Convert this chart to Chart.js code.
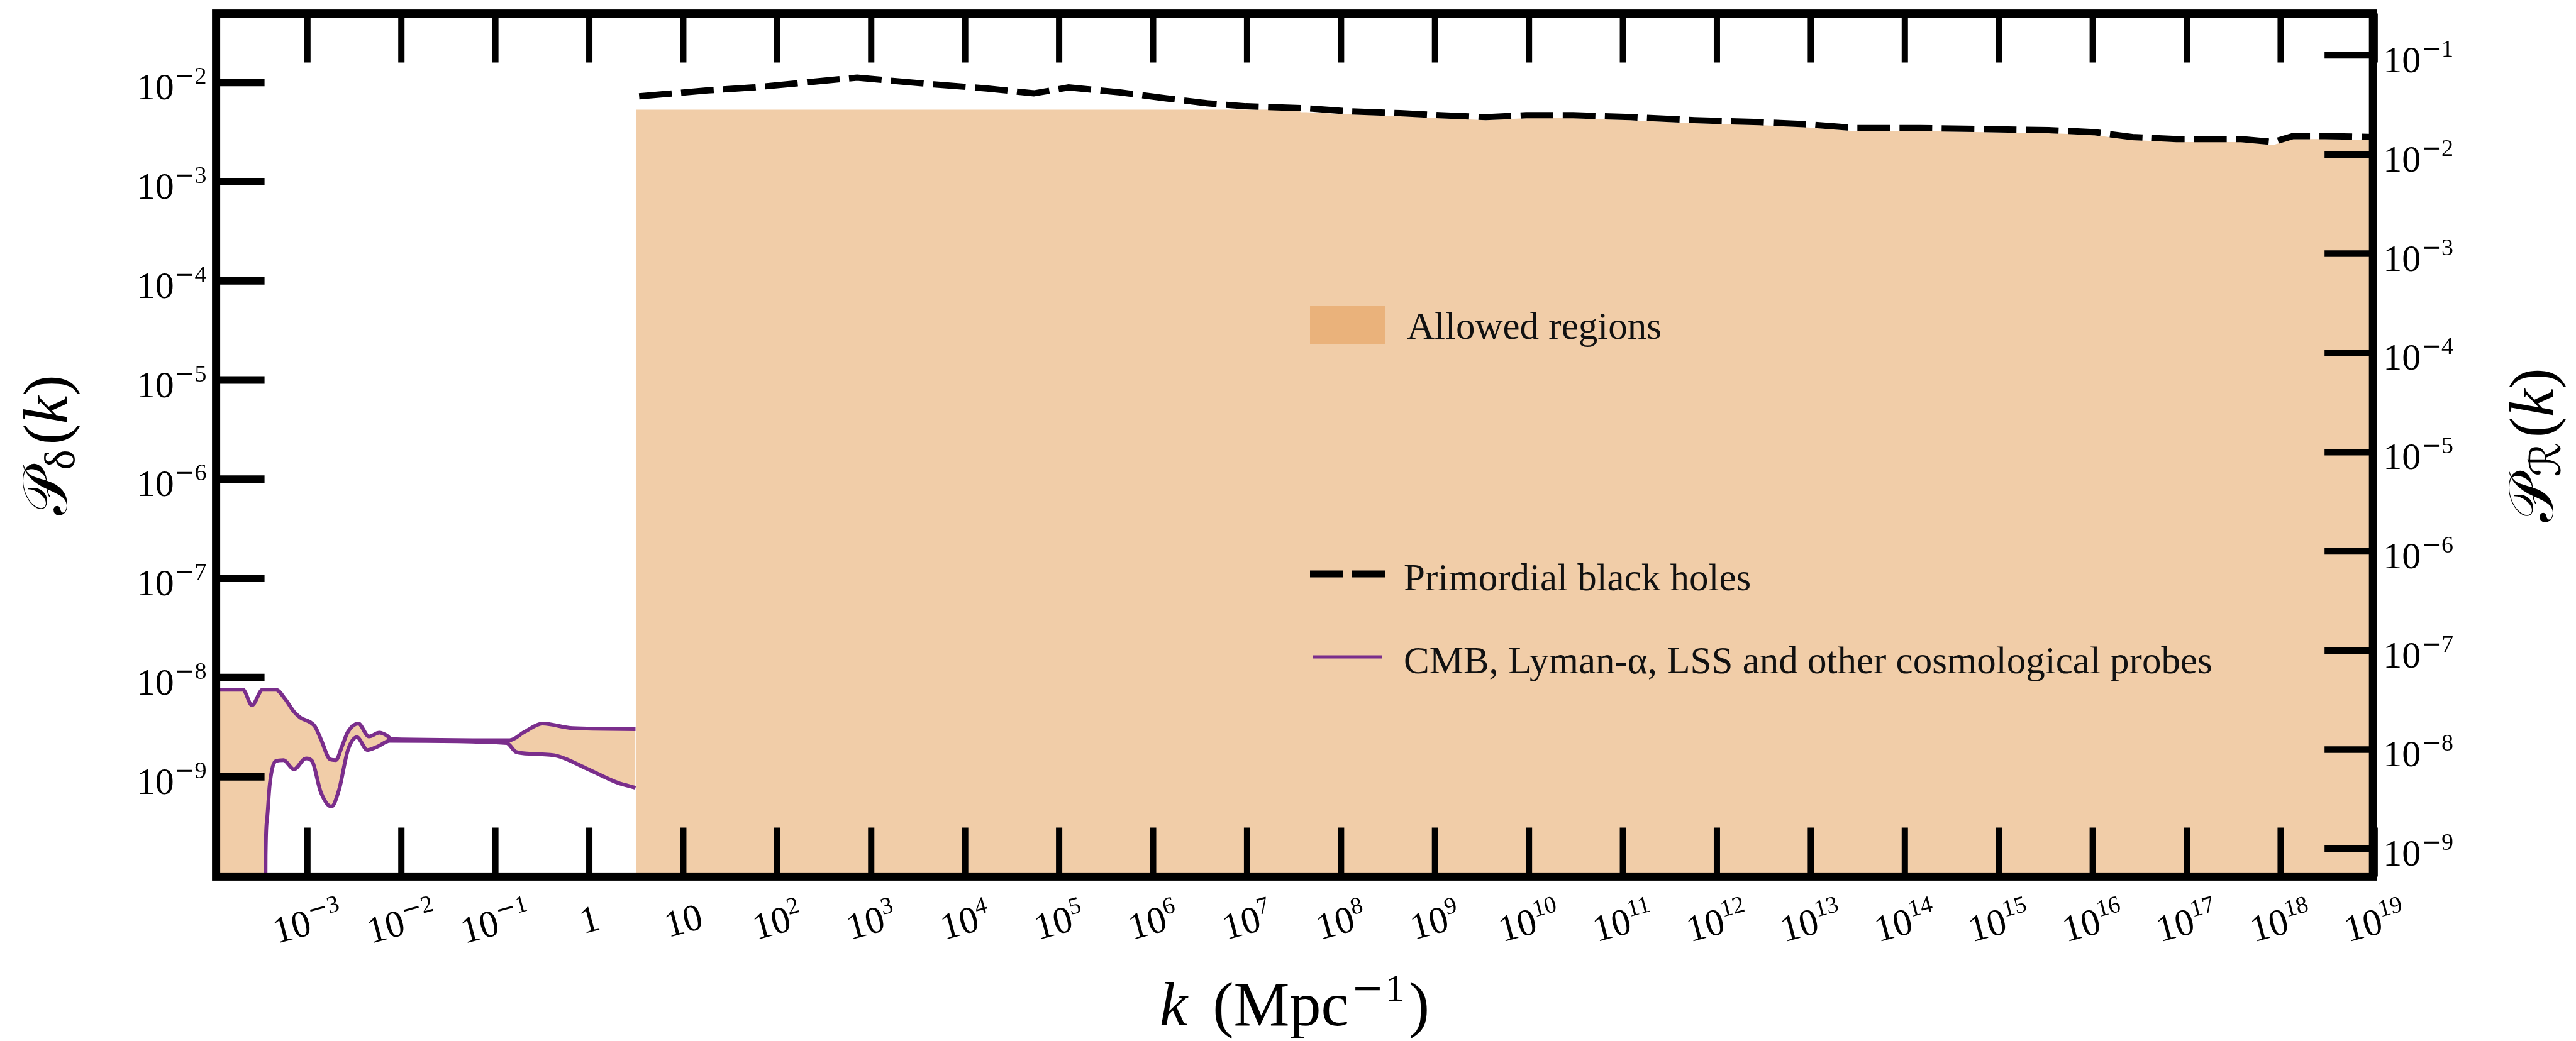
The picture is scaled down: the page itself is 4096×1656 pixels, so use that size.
<!DOCTYPE html>
<html>
<head>
<meta charset="utf-8">
<script src="https://cdn.jsdelivr.net/npm/chart.js@4.4.0/dist/chart.umd.min.js"></script>
<style>
  html, body { margin: 0; padding: 0; background: #fff; }
</style>
</head>
<body>
<canvas id="chart" width="4096" height="1656"></canvas>
<script>
// ---- data (k in Mpc^-1, P_delta dimensionless) ----

// CMB, Lyman-alpha, LSS band: upper edge
const cmbUpperK = [1.07e-4, 2.06e-4, 2.57e-4, 3.33e-4, 4.63e-4, 5.77e-4, 7.19e-4, 8.32e-4, 1.20e-3, 1.39e-3,
  1.74e-3, 2.01e-3, 2.33e-3, 2.70e-3, 3.48e-3, 4.51e-3, 5.83e-3, 7.01e-3, 7.82e-3, 0.142, 0.205, 0.318, 0.665, 3.10];
const cmbUpperP = [7.55e-9, 7.55e-9, 5.26e-9, 7.55e-9, 7.55e-9, 6.11e-9, 4.53e-9, 3.98e-9, 3.22e-9, 2.40e-9,
  1.50e-9, 1.47e-9, 2.02e-9, 2.84e-9, 3.44e-9, 2.55e-9, 2.78e-9, 2.60e-9, 2.40e-9, 2.34e-9, 2.84e-9, 3.44e-9, 3.09e-9, 3.02e-9];

// CMB band: lower edge (first two points sit below the axis)
const cmbLowerK = [1.05e-4, 3.55e-4, 3.59e-4, 3.72e-4, 3.98e-4, 4.63e-4, 5.56e-4, 7.19e-4, 9.64e-4, 1.12e-3,
  1.39e-3, 1.80e-3, 2.16e-3, 2.70e-3, 3.36e-3, 4.35e-3, 5.62e-3, 7.53e-3, 0.132, 0.166, 0.251, 0.457, 0.955, 2.00, 3.10];
const cmbLowerP = [1e-11, 1e-11, 1.58e-10, 3.72e-10, 8.51e-10, 1.44e-9, 1.47e-9, 1.19e-9, 1.53e-9, 1.44e-9,
  6.98e-10, 5.01e-10, 7.28e-10, 1.86e-9, 2.50e-9, 1.86e-9, 2.02e-9, 2.30e-9, 2.19e-9, 1.78e-9, 1.70e-9, 1.62e-9, 1.20e-9, 8.71e-10, 7.76e-10];

// Primordial black holes bound
const pbhK = [3.39, 18.2, 56.2, 178, 708, 1480, 4680, 1.70e4, 5.37e4, 1.26e5, 4.47e5, 1.38e6, 3.72e6, 9.77e6,
  4.27e7, 1.15e8, 4.27e8, 1.12e9, 3.47e9, 9.33e9, 2.95e10, 1.20e11, 5.75e11, 2.82e12, 8.51e12, 2.95e13,
  1.45e14, 6.92e14, 3.39e15, 1.02e16, 2.63e16, 7.76e16, 3.80e17, 8.32e17, 1.35e18, 2.95e18, 9.55e18];
const pbhP = [7.24e-3, 8.32e-3, 8.91e-3, 9.89e-3, 1.12e-2, 1.05e-2, 9.55e-3, 8.71e-3, 7.76e-3, 8.91e-3, 7.94e-3,
  6.92e-3, 6.17e-3, 5.75e-3, 5.50e-3, 5.13e-3, 4.90e-3, 4.68e-3, 4.47e-3, 4.68e-3, 4.68e-3, 4.47e-3, 4.17e-3,
  3.98e-3, 3.80e-3, 3.47e-3, 3.47e-3, 3.39e-3, 3.31e-3, 3.16e-3, 2.82e-3, 2.69e-3, 2.69e-3, 2.51e-3, 2.88e-3, 2.88e-3, 2.82e-3];

// top of the large allowed region
const allowedK = [3.16, 3.63e7, 3.70e7, 4.27e7, 1.15e8, 4.27e8, 1.12e9, 3.47e9, 9.33e9, 2.95e10, 1.20e11, 5.75e11,
  2.82e12, 8.51e12, 2.95e13, 1.45e14, 6.92e14, 3.39e15, 1.02e16, 2.63e16, 7.76e16, 3.80e17, 8.32e17, 1.35e18, 2.95e18, 1e19];
const allowedP = [5.32e-3, 5.32e-3, 5.01e-3, 5.01e-3, 4.79e-3, 4.57e-3, 4.37e-3, 4.17e-3, 4.37e-3, 4.37e-3, 4.17e-3, 3.89e-3,
  3.72e-3, 3.55e-3, 3.24e-3, 3.24e-3, 3.16e-3, 3.09e-3, 2.95e-3, 2.63e-3, 2.51e-3, 2.51e-3, 2.34e-3, 2.69e-3, 2.69e-3, 2.63e-3];

// axes
const xTicks = [1e-3, 1e-2, 1e-1, 1, 10, 1e2, 1e3, 1e4, 1e5, 1e6, 1e7, 1e8, 1e9, 1e10, 1e11, 1e12, 1e13, 1e14, 1e15, 1e16, 1e17, 1e18, 1e19];
const xTickLabels = ['10^-3', '10^-2', '10^-1', '1', '10', '10^2', '10^3', '10^4', '10^5', '10^6', '10^7', '10^8', '10^9',
  '10^10', '10^11', '10^12', '10^13', '10^14', '10^15', '10^16', '10^17', '10^18', '10^19'];
const yTicks = [1e-9, 1e-8, 1e-7, 1e-6, 1e-5, 1e-4, 1e-3, 1e-2];
const yTickLabels = ['10^-9', '10^-8', '10^-7', '10^-6', '10^-5', '10^-4', '10^-3', '10^-2'];
const yRTicks = [1e-9, 1e-8, 1e-7, 1e-6, 1e-5, 1e-4, 1e-3, 1e-2, 1e-1];
const yRTickLabels = ['10^-9', '10^-8', '10^-7', '10^-6', '10^-5', '10^-4', '10^-3', '10^-2', '10^-1'];

const X_MIN = 1.067e-4, X_MAX = 9.6e18;
const Y_MIN = 9.86e-11, Y_MAX = 4.95e-2;
const YR_MIN = 5.25e-10, YR_MAX = 0.2636;

const PURPLE = '#7a2e8c';
const FILL = '#f1cda8';
const PATCH = '#eab27b';
const SERIF = '"Liberation Serif", "DejaVu Serif", serif';

const pts = (xs, ys) => xs.map((x, i) => ({ x: x, y: ys[i] }));

function powRuns(label, size) {
  const i = label.indexOf('^');
  const runs = [{ t: i < 0 ? label : label.slice(0, i), font: size + 'px ' + SERIF }];
  if (i >= 0) {
    let e = label.slice(i + 1);
    const s = Math.round(size * 0.63);
    const up = -Math.round(size * 0.42);
    if (e[0] === '-') {
      runs.push({ t: '\u2212', font: s + 'px "DejaVu Sans"', dy: up, dx: 1 });
      e = e.slice(1);
    }
    runs.push({ t: e, font: s + 'px ' + SERIF, dy: up });
  }
  return runs;
}
function runsWidth(ctx, runs) {
  let w = 0;
  runs.forEach(r => { ctx.font = r.font; w += ctx.measureText(r.t).width + (r.dx || 0); });
  return w;
}
function drawRuns(ctx, runs, x, y) {
  runs.forEach(r => {
    ctx.font = r.font;
    x += r.dx || 0;
    ctx.fillText(r.t, x, y + (r.dy || 0));
    x += ctx.measureText(r.t).width;
  });
}

const frame = {
  id: 'frame',
  afterDatasetsDraw(chart) {
    const { ctx, chartArea: a, scales } = chart;
    const xs = scales.x, yl = scales.y, yr = scales.yR;
    ctx.save();
    ctx.strokeStyle = '#000';
    ctx.fillStyle = '#000';
    ctx.lineCap = 'butt';
    ctx.textBaseline = 'alphabetic';
    ctx.textAlign = 'left';

    // ticks, all pointing inwards
    ctx.lineWidth = 10;
    xTicks.forEach(v => {
      const px = xs.getPixelForValue(v);
      ctx.beginPath();
      ctx.moveTo(px, a.top); ctx.lineTo(px, a.top + 78);
      ctx.moveTo(px, a.bottom); ctx.lineTo(px, a.bottom - 78);
      ctx.stroke();
    });
    ctx.lineWidth = 12;
    yTicks.forEach(v => {
      const py = yl.getPixelForValue(v);
      ctx.beginPath(); ctx.moveTo(a.left, py); ctx.lineTo(a.left + 77, py); ctx.stroke();
    });
    ctx.lineWidth = 10.5;
    yRTicks.forEach(v => {
      const py = yr.getPixelForValue(v);
      ctx.beginPath(); ctx.moveTo(a.right, py); ctx.lineTo(a.right - 77, py); ctx.stroke();
    });

    // frame
    ctx.lineWidth = 13;
    ctx.lineJoin = 'miter';
    ctx.strokeRect(a.left, a.top, a.right - a.left, a.bottom - a.top);

    // tick labels
    const TS = 60;
    yTicks.forEach((v, i) => {
      const runs = powRuns(yTickLabels[i], TS);
      const w = runsWidth(ctx, runs);
      drawRuns(ctx, runs, a.left - 15 - w, yl.getPixelForValue(v) + 27);
    });
    yRTicks.forEach((v, i) => {
      const runs = powRuns(yRTickLabels[i], TS);
      drawRuns(ctx, runs, a.right + 16, yr.getPixelForValue(v) + 27);
    });
    xTicks.forEach((v, i) => {
      const runs = powRuns(xTickLabels[i], TS);
      const w = runsWidth(ctx, runs);
      ctx.save();
      ctx.translate(xs.getPixelForValue(v), a.bottom + 68 + 0.06 * (w - 30));
      ctx.rotate(-15 * Math.PI / 180);
      drawRuns(ctx, runs, -w / 2, 20);
      ctx.restore();
    });

    // axis titles
    const xt = [
      { t: 'k', font: 'italic 100px ' + SERIF },
      { t: '(', font: '100px ' + SERIF, dx: 40 },
      { t: 'Mpc', font: '100px ' + SERIF },
      { t: '\u2212', font: '62px "DejaVu Sans"', dy: -39, dx: 4 },
      { t: '1', font: '62px ' + SERIF, dy: -39, dx: 2 },
      { t: ')', font: '100px ' + SERIF, dx: 6 }
    ];
    drawRuns(ctx, xt, (a.left + a.right) / 2 - runsWidth(ctx, xt) / 2, 1631);

    const yTitle = (sub, cx) => {
      const runs = [
        { t: '\u{1D4AB}', font: '100px "DejaVu Serif", "DejaVu Sans", serif' },
        { t: sub, font: '68px ' + SERIF + ', "DejaVu Sans"', dy: 12 },
        { t: '(', font: '100px ' + SERIF, dx: 8 },
        { t: 'k', font: 'italic 100px ' + SERIF },
        { t: ')', font: '100px ' + SERIF }
      ];
      ctx.save();
      ctx.translate(cx, (a.top + a.bottom) / 2);
      ctx.rotate(-Math.PI / 2);
      drawRuns(ctx, runs, -runsWidth(ctx, runs) / 2, 0);
      ctx.restore();
    };
    yTitle('\u03B4', 106);
    yTitle('\u211B', 4059);

    // legend
    ctx.fillStyle = PATCH;
    ctx.fillRect(2083, 487, 119, 60);
    ctx.strokeStyle = '#000';
    ctx.lineWidth = 11;
    ctx.setLineDash([52, 15]);
    ctx.beginPath(); ctx.moveTo(2083, 913); ctx.lineTo(2202, 913); ctx.stroke();
    ctx.setLineDash([]);
    ctx.strokeStyle = PURPLE;
    ctx.lineWidth = 5;
    ctx.beginPath(); ctx.moveTo(2087, 1045); ctx.lineTo(2198, 1045); ctx.stroke();
    ctx.fillStyle = '#111';
    ctx.font = '61px ' + SERIF;
    ctx.fillText('Allowed regions', 2237, 539);
    ctx.fillText('Primordial black holes', 2232, 939);
    ctx.fillText('CMB, Lyman-\u03B1, LSS and other cosmological probes', 2232, 1071);
    ctx.restore();
  }
};

new Chart(document.getElementById('chart'), {
  type: 'line',
  data: {
    datasets: [
      {
        label: 'Primordial black holes',
        data: pts(pbhK, pbhP),
        borderColor: '#000',
        borderWidth: 10,
        borderDash: [52, 15],
        fill: false
      },
      {
        label: 'CMB, Lyman-\u03B1, LSS and other cosmological probes',
        data: pts(cmbUpperK, cmbUpperP),
        borderColor: PURPLE,
        borderWidth: 6,
        backgroundColor: FILL,
        cubicInterpolationMode: 'monotone',
        fill: 2
      },
      {
        label: 'CMB lower',
        data: pts(cmbLowerK, cmbLowerP),
        borderColor: PURPLE,
        borderWidth: 6,
        cubicInterpolationMode: 'monotone',
        fill: false
      },
      {
        label: 'Allowed regions',
        data: pts(allowedK, allowedP),
        borderWidth: 0,
        borderColor: 'rgba(0,0,0,0)',
        backgroundColor: FILL,
        fill: 'start'
      }
    ]
  },
  options: {
    responsive: false,
    animation: false,
    events: [],
    layout: { padding: { left: 343.6, right: 322.8, top: 21.6, bottom: 261.6 } },
    elements: { point: { radius: 0 }, line: { tension: 0 } },
    plugins: {
      legend: { display: false },
      tooltip: { enabled: false },
      filler: { drawTime: 'beforeDatasetsDraw' }
    },
    scales: {
      x: { type: 'logarithmic', min: X_MIN, max: X_MAX, display: false },
      y: { type: 'logarithmic', min: Y_MIN, max: Y_MAX, display: false },
      yR: { type: 'logarithmic', position: 'right', min: YR_MIN, max: YR_MAX, display: false }
    }
  },
  plugins: [frame]
});
</script>
</body>
</html>
